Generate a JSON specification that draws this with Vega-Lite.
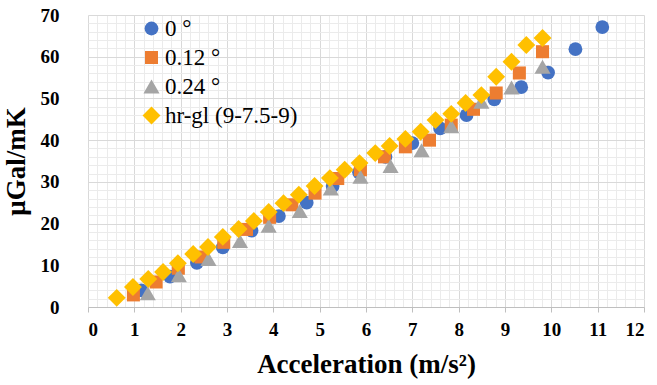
{
  "$schema": "https://vega.github.io/schema/vega-lite/v6.json",
  "width": 556,
  "height": 292,
  "autosize": {"type": "none"},
  "padding": {"left": 88, "top": 15, "right": 13, "bottom": 78},
  "background": "white",
  "config": {
    "font": "Liberation Serif",
    "view": {"stroke": null},
    "legend": {"labelFont": "Liberation Serif", "labelFontSize": 23, "labelColor": "#000000", "labelOffset": 2,
      "symbolSize": 260, "rowPadding": 5, "symbolStrokeWidth": 0}
  },
  "data": {"values": [
    {"s": "0 °", "a": 1.15, "g": 4.0},
    {"s": "0 °", "a": 1.77, "g": 7.3},
    {"s": "0 °", "a": 2.35, "g": 10.6},
    {"s": "0 °", "a": 2.91, "g": 14.3},
    {"s": "0 °", "a": 3.53, "g": 18.3},
    {"s": "0 °", "a": 4.12, "g": 21.8},
    {"s": "0 °", "a": 4.72, "g": 25.0},
    {"s": "0 °", "a": 5.28, "g": 29.0},
    {"s": "0 °", "a": 5.85, "g": 32.3},
    {"s": "0 °", "a": 6.42, "g": 36.0},
    {"s": "0 °", "a": 7.0, "g": 39.3},
    {"s": "0 °", "a": 7.6, "g": 42.8},
    {"s": "0 °", "a": 8.17, "g": 46.0},
    {"s": "0 °", "a": 8.77, "g": 49.8},
    {"s": "0 °", "a": 9.35, "g": 52.7},
    {"s": "0 °", "a": 9.93, "g": 56.2},
    {"s": "0 °", "a": 10.52, "g": 61.8},
    {"s": "0 °", "a": 11.1, "g": 67.1},
    {"s": "0.12 °", "a": 0.98, "g": 2.9},
    {"s": "0.12 °", "a": 1.47, "g": 6.0},
    {"s": "0.12 °", "a": 1.95, "g": 9.3},
    {"s": "0.12 °", "a": 2.44, "g": 12.0},
    {"s": "0.12 °", "a": 2.93, "g": 15.5},
    {"s": "0.12 °", "a": 3.42, "g": 18.6},
    {"s": "0.12 °", "a": 3.92, "g": 21.5},
    {"s": "0.12 °", "a": 4.4, "g": 24.5},
    {"s": "0.12 °", "a": 4.9, "g": 27.3},
    {"s": "0.12 °", "a": 5.39, "g": 30.8},
    {"s": "0.12 °", "a": 5.88, "g": 32.9},
    {"s": "0.12 °", "a": 6.4, "g": 36.0},
    {"s": "0.12 °", "a": 6.85, "g": 38.4},
    {"s": "0.12 °", "a": 7.37, "g": 40.0},
    {"s": "0.12 °", "a": 7.84, "g": 43.6},
    {"s": "0.12 °", "a": 8.32, "g": 47.4},
    {"s": "0.12 °", "a": 8.81, "g": 51.3},
    {"s": "0.12 °", "a": 9.31, "g": 56.1},
    {"s": "0.12 °", "a": 9.81, "g": 61.2},
    {"s": "0.24 °", "a": 1.29, "g": 3.3},
    {"s": "0.24 °", "a": 1.96, "g": 7.6},
    {"s": "0.24 °", "a": 2.6, "g": 11.5},
    {"s": "0.24 °", "a": 3.28, "g": 15.8},
    {"s": "0.24 °", "a": 3.9, "g": 19.5},
    {"s": "0.24 °", "a": 4.57, "g": 23.0},
    {"s": "0.24 °", "a": 5.24, "g": 28.4},
    {"s": "0.24 °", "a": 5.88, "g": 31.2},
    {"s": "0.24 °", "a": 6.53, "g": 33.8},
    {"s": "0.24 °", "a": 7.2, "g": 37.6},
    {"s": "0.24 °", "a": 7.84, "g": 43.3},
    {"s": "0.24 °", "a": 8.49, "g": 49.2},
    {"s": "0.24 °", "a": 9.14, "g": 52.6},
    {"s": "0.24 °", "a": 9.81, "g": 57.6},
    {"s": "hr-gl (9-7.5-9)", "a": 0.62, "g": 2.2},
    {"s": "hr-gl (9-7.5-9)", "a": 0.97, "g": 4.8},
    {"s": "hr-gl (9-7.5-9)", "a": 1.3, "g": 6.7},
    {"s": "hr-gl (9-7.5-9)", "a": 1.62, "g": 8.4},
    {"s": "hr-gl (9-7.5-9)", "a": 1.94, "g": 10.5},
    {"s": "hr-gl (9-7.5-9)", "a": 2.27, "g": 12.7},
    {"s": "hr-gl (9-7.5-9)", "a": 2.59, "g": 14.4},
    {"s": "hr-gl (9-7.5-9)", "a": 2.91, "g": 16.8},
    {"s": "hr-gl (9-7.5-9)", "a": 3.25, "g": 18.7},
    {"s": "hr-gl (9-7.5-9)", "a": 3.58, "g": 20.6},
    {"s": "hr-gl (9-7.5-9)", "a": 3.9, "g": 22.8},
    {"s": "hr-gl (9-7.5-9)", "a": 4.22, "g": 24.9},
    {"s": "hr-gl (9-7.5-9)", "a": 4.55, "g": 26.9},
    {"s": "hr-gl (9-7.5-9)", "a": 4.89, "g": 29.0},
    {"s": "hr-gl (9-7.5-9)", "a": 5.22, "g": 30.9},
    {"s": "hr-gl (9-7.5-9)", "a": 5.54, "g": 32.9},
    {"s": "hr-gl (9-7.5-9)", "a": 5.86, "g": 34.5},
    {"s": "hr-gl (9-7.5-9)", "a": 6.2, "g": 36.9},
    {"s": "hr-gl (9-7.5-9)", "a": 6.51, "g": 38.6},
    {"s": "hr-gl (9-7.5-9)", "a": 6.85, "g": 40.3},
    {"s": "hr-gl (9-7.5-9)", "a": 7.18, "g": 42.0},
    {"s": "hr-gl (9-7.5-9)", "a": 7.5, "g": 44.8},
    {"s": "hr-gl (9-7.5-9)", "a": 7.84, "g": 46.3},
    {"s": "hr-gl (9-7.5-9)", "a": 8.15, "g": 48.9},
    {"s": "hr-gl (9-7.5-9)", "a": 8.49, "g": 50.8},
    {"s": "hr-gl (9-7.5-9)", "a": 8.81, "g": 55.2},
    {"s": "hr-gl (9-7.5-9)", "a": 9.14, "g": 58.8},
    {"s": "hr-gl (9-7.5-9)", "a": 9.46, "g": 62.8},
    {"s": "hr-gl (9-7.5-9)", "a": 9.81, "g": 64.5}
  ]},
  "layer": [
    {
      "mark": {"type": "point", "opacity": 0},
      "encoding": {
        "x": {"field": "a", "type": "quantitative", "scale": {"domain": [0, 12], "nice": false},
          "axis": {"orient": "bottom", "values": [0.2,0.4,0.6,0.8,1.2,1.4,1.6,1.8,2.2,2.4,2.6,2.8,3.2,3.4,3.6,3.8,4.2,4.4,4.6,4.8,5.2,5.4,5.6,5.8,6.2,6.4,6.6,6.8,7.2,7.4,7.6,7.8,8.2,8.4,8.6,8.8,9.2,9.4,9.6,9.8,10.2,10.4,10.6,10.8,11.2,11.4,11.6,11.8],
            "grid": true, "gridColor": "#EBEBEB", "gridWidth": 1, "domain": false, "ticks": false, "labels": false, "title": null}},
        "y": {"field": "g", "type": "quantitative", "scale": {"domain": [0, 70], "nice": false},
          "axis": {"orient": "left", "values": [2,4,6,8,12,14,16,18,22,24,26,28,32,34,36,38,42,44,46,48,52,54,56,58,62,64,66,68],
            "grid": true, "gridColor": "#EBEBEB", "gridWidth": 1, "domain": false, "ticks": false, "labels": false, "title": null}}
      }
    },
    {
      "mark": {"type": "point", "filled": true, "opacity": 1},
      "encoding": {
        "x": {"field": "a", "type": "quantitative", "scale": {"domain": [0, 12], "nice": false},
          "axis": {"orient": "bottom", "values": [0,1,2,3,4,5,6,7,8,9,10,11,12], "grid": true, "gridColor": "#D9D9D9",
            "domainColor": "#BFBFBF", "tickColor": "#BFBFBF", "tickSize": 5, "labelPadding": 8,
            "labelFont": "Liberation Serif", "labelFontWeight": "bold", "labelFontSize": 19, "labelColor": "#000000",
            "title": "Acceleration (m/s²)", "titleFont": "Liberation Serif", "titleFontWeight": "bold", "titleFontSize": 27,
            "titleColor": "#000000", "titlePadding": 12}},
        "y": {"field": "g", "type": "quantitative", "scale": {"domain": [0, 70], "nice": false},
          "axis": {"orient": "left", "values": [0,10,20,30,40,50,60,70], "grid": true, "gridColor": "#D9D9D9",
            "domain": false, "ticks": false, "labelPadding": 29,
            "labelFont": "Liberation Serif", "labelFontWeight": "bold", "labelFontSize": 19, "labelColor": "#000000",
            "title": "μGal/mK", "titleFont": "Liberation Serif", "titleFontWeight": "bold", "titleFontSize": 27,
            "titleColor": "#000000", "titlePadding": 10}},
        "color": {"field": "s", "type": "nominal",
          "scale": {"domain": ["0 °", "0.12 °", "0.24 °", "hr-gl (9-7.5-9)"], "range": ["#4472C4", "#ED7D31", "#A5A5A5", "#FFC000"]},
          "legend": {"orient": "none", "legendX": 52, "legendY": 2, "title": null}},
        "shape": {"field": "s", "type": "nominal",
          "scale": {"domain": ["0 °", "0.12 °", "0.24 °", "hr-gl (9-7.5-9)"], "range": ["circle", "square", "triangle-up", "diamond"]},
          "legend": {"orient": "none", "legendX": 52, "legendY": 2, "title": null}},
        "size": {"field": "s", "type": "nominal",
          "scale": {"type": "ordinal", "domain": ["0 °", "0.12 °", "0.24 °", "hr-gl (9-7.5-9)"], "range": [190, 170, 260, 320]}, "legend": null}
      }
    }
  ],
  "resolve": {"axis": {"x": "independent", "y": "independent"}}
}
